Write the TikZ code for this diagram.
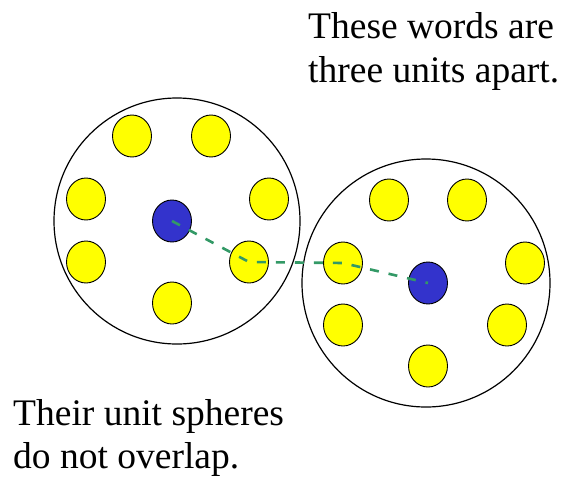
\documentclass[tikz,border=0pt]{standalone}
\usepackage{fontspec}
\setmainfont{Liberation Serif}
\definecolor{wordYellow}{RGB}{255,255,0}
\definecolor{wordBlue}{RGB}{51,51,204}
\definecolor{linkGreen}{RGB}{51,153,102}
\usetikzlibrary{shapes.geometric}

\begin{document}
\begin{tikzpicture}[x=1pt, y=-1pt,
    sphere/.style={circle, draw=black, line width=1.2pt, inner sep=0pt},
    word/.style={ellipse, draw=black, fill=wordYellow, line width=0.9pt,
                 minimum width=39pt, minimum height=42pt, inner sep=0pt},
    centre/.style={word, fill=wordBlue},
    link/.style={linkGreen, line width=2.6pt, dash pattern=on 9pt off 10pt},
    note/.style={anchor=base west, inner sep=0pt,
                 font=\fontsize{37.5}{44}\selectfont}
  ]
  \useasboundingbox (0,0) rectangle (562,480);

  % unit spheres
  \node[sphere, minimum size=246pt] (sa) at (177,221) {};
  \node[sphere, minimum size=248pt] (sb) at (426,283) {};

  % words round the first centre
  \node[word] (wa1) at (132,136) {};
  \node[word] (wa2) at (211,136) {};
  \node[word] (wa3) at ( 86,199) {};
  \node[word] (wa4) at (269,199) {};
  \node[word] (wa5) at ( 86,262) {};
  \node[word] (wa6) at (249,262) {};
  \node[word] (wa7) at (172,303) {};
  \node[centre] (ca) at (172,221) {};

  % words round the second centre
  \node[word] (wb1) at (389,200) {};
  \node[word] (wb2) at (467,200) {};
  \node[word] (wb3) at (343,263) {};
  \node[word] (wb4) at (525,263) {};
  \node[word] (wb5) at (343,325) {};
  \node[word] (wb6) at (507,325) {};
  \node[word] (wb7) at (428,366) {};
  \node[centre] (cb) at (428,283) {};

  % path of three units
  \draw[link] (ca.center) -- (wa6.center) -- (wb3.center) -- (cb.center);

  \node[note] (t1) at (308,38)  {These words are};
  \node[note] (t2) at (308,82)  {three units apart.};
  \node[note] (t3) at (13,425)  {Their unit spheres};
  \node[note] (t4) at (13,468)  {do not overlap.};
\end{tikzpicture}
\end{document}
